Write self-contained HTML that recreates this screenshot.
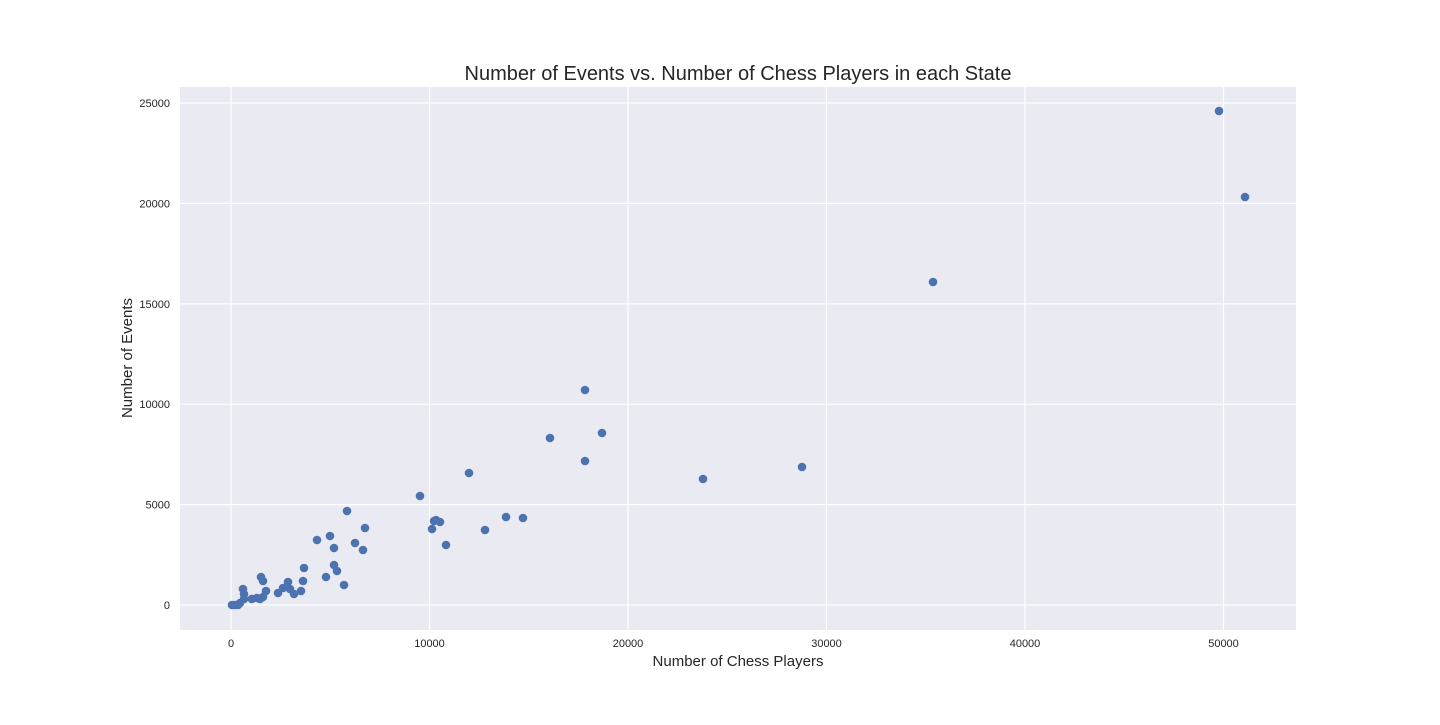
<!DOCTYPE html>
<html><head><meta charset="utf-8"><style>
body{margin:0;background:#fff;font-family:"Liberation Sans",Arial,sans-serif}
svg text{font-family:"Liberation Sans",Arial,sans-serif;fill:#262626}
</style></head><body>
<svg id="chart" width="1440" height="720">
<text x="738" y="80" text-anchor="middle" font-size="20">Number of Events vs. Number of Chess Players in each State</text>
<rect x="180" y="87" width="1116" height="543" fill="#eaeaf2"/>
<g id="grid"></g><g id="ticks"></g><g id="pts"></g>
<text x="738" y="666" text-anchor="middle" font-size="15">Number of Chess Players</text>
<text transform="translate(132,358) rotate(-90)" text-anchor="middle" font-size="15">Number of Events</text>
</svg>
<script>
const players=[5844,6751,4332,4987,5189,6247,6650,5189,5340,4786,5693,3678,3627,3526,2872,2620,2972,3174,2368,1511,1612,1763,1310,1461,1612,605,655,655,453,50,202,353,1050,9521,10126,10227,10327,10529,10831,11990,12796,13854,14710,16071,17834,17834,18690,23778,28766,35365,49773,51083];
const events=[4681,3835,3237,3436,2839,3088,2739,1992,1693,1394,996,1843,1195,697,1145,847,797,548,598,1394,1195,697,349,299,398,797,548,299,100,0,0,0,300,5428,3785,4183,4233,4133,2988,6574,3735,4382,4333,8317,10707,7171,8566,6275,6873,16086,24602,20319];
const xTicks=[0,10000,20000,30000,40000,50000];
const yTicks=[0,5000,10000,15000,20000,25000];
const X=v=>231+v*0.01985, Y=v=>605-v*0.02008;
const NS="http://www.w3.org/2000/svg";
const grid=document.getElementById('grid'),ticks=document.getElementById('ticks'),pts=document.getElementById('pts');
function mk(tag,attrs,parent){const e=document.createElementNS(NS,tag);for(const k in attrs)e.setAttribute(k,attrs[k]);parent.appendChild(e);return e;}
xTicks.forEach(t=>{
 const l=mk('line',{x1:X(t),x2:X(t),y1:87,y2:630,stroke:'#fff','stroke-width':1.2},grid);
 
 
 const s=mk('text',{x:X(t),y:647,'text-anchor':'middle','font-size':11},ticks);s.textContent=t;
 
 
});
yTicks.forEach(t=>{
 const l=mk('line',{x1:180,x2:1296,y1:Y(t),y2:Y(t),stroke:'#fff','stroke-width':1.2},grid);
 
 
 const s=mk('text',{x:170,y:Y(t)+4,'text-anchor':'end','font-size':11},ticks);s.textContent=t;
 
 
});
players.forEach((p,i)=>{
 const c=mk('circle',{cx:X(p),cy:Y(events[i]),r:4.3,fill:'#4c72b0'},pts);
 
 
});
</script>
</body></html>
